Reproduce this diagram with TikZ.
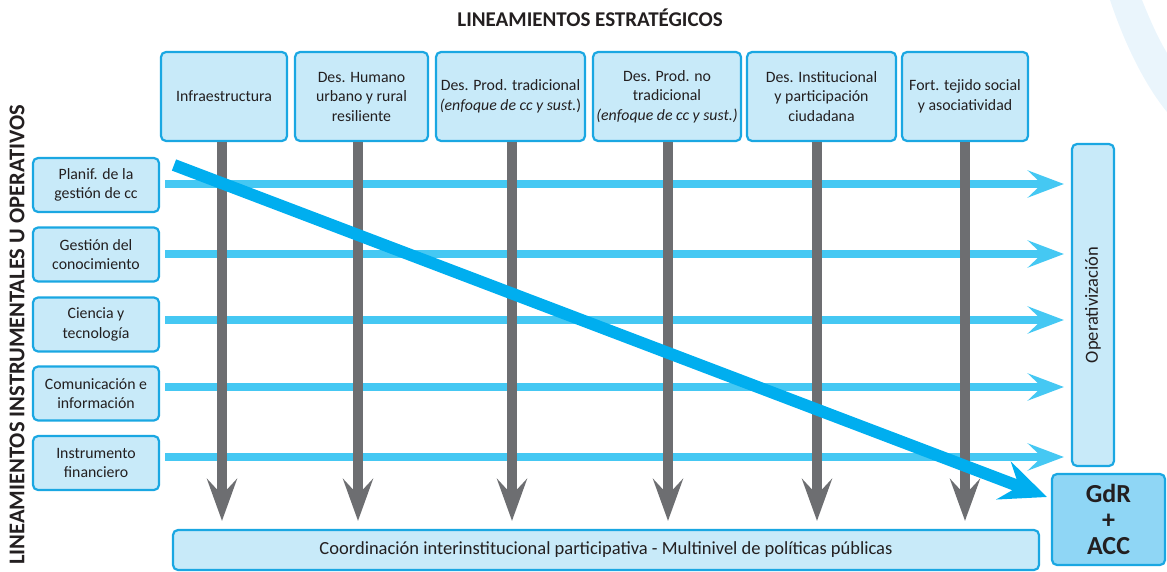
\documentclass[tikz,border=0pt]{standalone}
\usepackage{fontspec}
\setmainfont{Carlito}
\usetikzlibrary{arrows.meta,calc}
\definecolor{boxfill}{HTML}{C8EAF9}
\definecolor{boxline}{HTML}{1AA7E2}
\definecolor{cyanline}{HTML}{45C8F3}
\definecolor{diagblue}{HTML}{00AEEF}
\definecolor{grayline}{HTML}{6D6E71}
\definecolor{gdrfill}{HTML}{8FD6F5}
\definecolor{txt}{HTML}{231F20}
\definecolor{arcblue}{HTML}{EAF5FC}
\begin{document}
\begin{tikzpicture}[x=1pt,y=-1pt,
  box/.style={draw=boxline, fill=boxfill, line width=2.2pt, rounded corners=5pt,
    align=center, text=txt, font=\fontsize{15.8}{19.5}\selectfont, inner sep=2pt},
  leftbox/.style={box, minimum width=126pt, minimum height=54pt},
  topbox/.style={box, minimum height=89pt},
  cyarrow/.style={draw=cyanline, line width=8pt,
    -{Stealth[length=36pt, width=27pt, inset=14pt]}},
  grarrow/.style={draw=grayline, line width=10pt,
    -{Stealth[length=42pt, width=30pt, inset=16pt]}},
  diagarrow/.style={draw=diagblue, line width=12pt,
    -{Stealth[length=46pt, width=40pt, inset=16pt]}}
]
\useasboundingbox (0,0) rectangle (1167,572);
% background arc
\fill[arcblue] (1110,0) .. controls (1125,45) and (1145,85) .. (1167,112)
  -- (1167,53) .. controls (1158,38) and (1150,20) .. (1142,0) -- cycle;

% titles
\node[font=\bfseries\fontsize{21}{24}\selectfont, text=txt] (title) at (590,18) {LINEAMIENTOS ESTRATÉGICOS};
\node[font=\bfseries\fontsize{22.5}{24}\selectfont, text=txt, rotate=90] (ltitle) at (17,335) {LINEAMIENTOS INSTRUMENTALES U OPERATIVOS};

% top boxes
\node[topbox, minimum width=126pt] (t1) at (224,96.5) {Infraestructura};
\node[topbox, minimum width=133pt] (t2) at (361.5,96.5) {Des. Humano\\urbano y rural\\resiliente};
\node[topbox, minimum width=149pt] (t3) at (510.5,96.5) {Des. Prod. tradicional\\\textit{(enfoque de cc y sust.})};
\node[topbox, minimum width=148pt] (t4) at (667,96.5) {Des. Prod. no\\tradicional\\\textit{(enfoque de cc y sust.)}};
\node[topbox, minimum width=149pt] (t5) at (821.5,96.5) {Des. Institucional\\y participación\\ciudadana};
\node[topbox, minimum width=126pt] (t6) at (965,96.5) {Fort. tejido social\\y asociatividad};

% left boxes
\node[leftbox] (l1) at (96,185) {Planif. de la\\gestión de cc};
\node[leftbox] (l2) at (96,254.5) {Gestión del\\conocimiento};
\node[leftbox] (l3) at (96,324.5) {Ciencia y\\tecnología};
\node[leftbox] (l4) at (96,393.5) {Comunicación e\\información};
\node[leftbox] (l5) at (96,463) {Instrumento\\financiero};

% right boxes
\node[box, minimum width=42pt, minimum height=322pt] (op) at (1093,305) {};
\node[text=txt, font=\fontsize{18.5}{20}\selectfont, rotate=90] (optext) at (op.center) {Operativización};
\node[box, fill=gdrfill, minimum width=113pt, minimum height=91pt,
  font=\bfseries\fontsize{26}{26}\selectfont] (gdr) at (1108.5,519.5) {GdR\\+\\ACC};

% bottom box
\node[box, minimum width=866pt, minimum height=40pt, font=\fontsize{18.5}{20}\selectfont] (bot) at (606,550)
  {Coordinación interinstitucional participativa - Multinivel de políticas públicas};

% horizontal cyan arrows
\coordinate (h1) at (165,184);
\coordinate (h2) at (165,254);
\coordinate (h3) at (165,320);
\coordinate (h4) at (165,387);
\coordinate (h5) at (165,457);
\foreach \i in {1,...,5}{
  \draw[cyarrow, shorten >=7pt] (h\i) -- (h\i -| op.west);
}

% vertical gray arrows
\foreach \i/\dx in {1/-2, 2/-3.5, 3/1.5, 4/1, 5/-4.5, 6/0}{
  \coordinate (g\i) at ([xshift=\dx pt]t\i.south);
  \draw[grarrow, shorten >=8pt] (g\i) -- (g\i |- bot.north);
}

% diagonal arrow
\coordinate (d0) at (174,165);
\coordinate (d1) at (1047,497);
\draw[diagarrow] (d0) -- (d1);
\end{tikzpicture}
\end{document}
